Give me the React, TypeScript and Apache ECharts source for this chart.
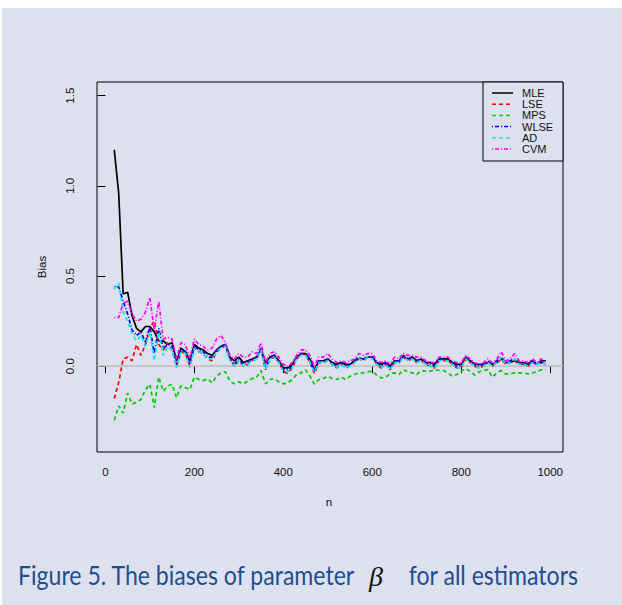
import React, { useEffect, useRef } from "react";
import * as echarts from "echarts";

// Sample sizes n = 20, 30, ..., 990
const N: number[] = Array.from({ length: 98 }, (_, i) => 20 + 10 * i);

const MLE = [
  1.2, 0.96, 0.4, 0.41, 0.28, 0.21, 0.19, 0.22, 0.22, 0.19,
  0.14, 0.14, 0.12, 0.13, 0.03, 0.1, 0.08, 0.03, 0.12, 0.1,
  0.09, 0.07, 0.06, 0.09, 0.11, 0.12, 0.05, 0.03, 0.05, 0.02,
  0.03, 0.04, 0.05, 0.09, 0.02, 0.05, 0.06, 0.03, -0.01, -0.01,
  0.01, 0.05, 0.07, 0.07, 0.04, -0.02, 0.03, 0.03, 0.04, 0.02,
  0.01, 0.02, 0.01, 0.01, 0.03, 0.04, 0.04, 0.05, 0.05, 0.02,
  0.01, 0.02, 0.0, 0.03, 0.03, 0.05, 0.04, 0.05, 0.03, 0.04,
  0.02, 0.02, 0.01, 0.04, 0.04, 0.04, 0.02, 0.01, 0.01, 0.05,
  0.03, 0.01, 0.01, 0.01, 0.02, 0.01, 0.02, 0.04, 0.02, 0.02,
  0.03, 0.02, 0.02, 0.01, 0.03, 0.01, 0.03, 0.03,
];

const LSE = [
  -0.18, -0.09, 0.04, 0.05, 0.03, 0.12, 0.06, 0.12, 0.21, 0.25,
  0.12, 0.09, 0.13, 0.09, 0.0, 0.08, 0.07, 0.0, 0.1, 0.08,
  0.07, 0.04, 0.03, 0.08, 0.1, 0.11, 0.04, 0.0, 0.03, 0.0,
  0.01, 0.03, 0.04, 0.09, -0.02, 0.04, 0.05, 0.02, -0.03, -0.04,
  -0.01, 0.04, 0.07, 0.06, 0.02, -0.04, 0.02, 0.02, 0.03, 0.01,
  -0.01, 0.01, -0.01, 0.0, 0.02, 0.04, 0.03, 0.05, 0.05, 0.01,
  -0.01, 0.01, -0.02, 0.02, 0.02, 0.05, 0.03, 0.04, 0.02, 0.03,
  0.01, 0.0, -0.01, 0.03, 0.03, 0.03, 0.01, -0.01, -0.01, 0.04,
  0.02, 0.0, -0.01, 0.0, 0.02, 0.0, 0.02, 0.04, 0.01, 0.02,
  0.03, 0.01, 0.01, 0.0, 0.02, 0.01, 0.02, 0.01,
];

const MPS = [
  -0.3, -0.22, -0.26, -0.15, -0.21, -0.2, -0.185, -0.13, -0.1, -0.23,
  -0.06, -0.14, -0.11, -0.1, -0.175, -0.11, -0.12, -0.13, -0.06, -0.074,
  -0.08, -0.07, -0.093, -0.056, -0.037, -0.031, -0.083, -0.098, -0.087, -0.098,
  -0.083, -0.069, -0.061, -0.024, -0.098, -0.074, -0.069, -0.087, -0.098, -0.093,
  -0.074, -0.046, -0.037, -0.019, -0.056, -0.1, -0.074, -0.069, -0.056, -0.069,
  -0.074, -0.061, -0.074, -0.056, -0.046, -0.037, -0.037, -0.031, -0.028, -0.05,
  -0.065, -0.061, -0.043, -0.037, -0.046, -0.019, -0.031, -0.037, -0.046, -0.024,
  -0.028, -0.028, -0.019, -0.024, -0.024, -0.037, -0.056, -0.046, -0.028, -0.013,
  -0.028, -0.05, -0.031, -0.024, -0.019, -0.061, -0.037, -0.024, -0.043, -0.043,
  -0.037, -0.037, -0.037, -0.043, -0.037, -0.031, -0.02, -0.019,
];

const WLSE = [
  0.44, 0.44, 0.36, 0.29, 0.2, 0.17, 0.19, 0.13, 0.22, 0.07,
  0.21, 0.1, 0.12, 0.11, 0.01, 0.09, 0.08, 0.01, 0.11, 0.09,
  0.08, 0.05, 0.05, 0.09, 0.11, 0.12, 0.04, 0.01, 0.04, 0.01,
  0.02, 0.04, 0.05, 0.1, -0.01, 0.05, 0.06, 0.03, -0.02, -0.02,
  0.0, 0.05, 0.07, 0.07, 0.03, -0.03, 0.03, 0.03, 0.04, 0.02,
  0.0, 0.02, 0.0, 0.01, 0.03, 0.05, 0.04, 0.05, 0.05, 0.02,
  0.0, 0.02, -0.01, 0.03, 0.03, 0.06, 0.04, 0.05, 0.03, 0.04,
  0.02, 0.01, 0.0, 0.04, 0.04, 0.03, 0.02, 0.0, 0.0, 0.05,
  0.03, 0.01, 0.0, 0.01, 0.03, 0.01, 0.03, 0.05, 0.02, 0.03,
  0.04, 0.02, 0.02, 0.01, 0.03, 0.01, 0.02, 0.02,
];

const AD = [
  0.43, 0.46, 0.3, 0.25, 0.18, 0.14, 0.17, 0.11, 0.19, 0.03,
  0.19, 0.06, 0.11, 0.09, -0.01, 0.08, 0.07, -0.01, 0.1, 0.08,
  0.07, 0.04, 0.04, 0.08, 0.1, 0.11, 0.03, 0.0, 0.03, 0.0,
  0.01, 0.03, 0.04, 0.09, -0.02, 0.04, 0.05, 0.02, -0.03, -0.03,
  -0.01, 0.04, 0.06, 0.06, 0.02, -0.03, 0.02, 0.02, 0.03, 0.01,
  -0.01, 0.01, -0.01, 0.0, 0.02, 0.04, 0.03, 0.05, 0.04, 0.01,
  -0.01, 0.01, -0.02, 0.02, 0.02, 0.05, 0.03, 0.04, 0.02, 0.03,
  0.01, 0.0, -0.01, 0.03, 0.03, 0.03, 0.01, -0.01, -0.01, 0.04,
  0.02, 0.0, -0.01, 0.0, 0.02, 0.0, 0.02, 0.05, 0.01, 0.02,
  0.04, 0.01, 0.01, 0.0, 0.02, 0.01, 0.02, 0.01,
];

const CVM = [
  0.27, 0.27, 0.35, 0.36, 0.29, 0.25, 0.26, 0.3, 0.38, 0.2,
  0.36, 0.15, 0.16, 0.15, 0.04, 0.13, 0.12, 0.04, 0.15, 0.12,
  0.11, 0.09, 0.1, 0.15, 0.17, 0.13, 0.06, 0.04, 0.07, 0.05,
  0.05, 0.08, 0.07, 0.13, 0.02, 0.07, 0.08, 0.05, 0.01, 0.0,
  0.02, 0.06, 0.09, 0.09, 0.06, 0.0, 0.05, 0.05, 0.07, 0.04,
  0.02, 0.03, 0.02, 0.03, 0.04, 0.07, 0.06, 0.07, 0.07, 0.03,
  0.02, 0.03, 0.01, 0.05, 0.04, 0.07, 0.06, 0.06, 0.05, 0.05,
  0.03, 0.02, 0.02, 0.05, 0.05, 0.05, 0.03, 0.02, 0.02, 0.06,
  0.04, 0.02, 0.01, 0.02, 0.04, 0.02, 0.04, 0.08, 0.03, 0.04,
  0.07, 0.03, 0.03, 0.02, 0.04, 0.02, 0.04, 0.02,
];

const X_TICKS = [0, 200, 400, 600, 800, 1000];
const Y_TICKS = [0, 0.5, 1.0, 1.5];

const ESTIMATORS: { name: string; values: number[]; color: string; dash: number[] | null }[] = [
  { name: "MLE", values: MLE, color: "#000000", dash: null },
  { name: "LSE", values: LSE, color: "#ff0000", dash: [4, 3] },
  { name: "MPS", values: MPS, color: "#00cd00", dash: [4, 3] },
  { name: "WLSE", values: WLSE, color: "#0000ff", dash: [1, 2, 4, 2] },
  { name: "AD", values: AD, color: "#00eeee", dash: [4, 3] },
  { name: "CVM", values: CVM, color: "#ff00ff", dash: [1, 2, 4, 2] },
];

const BG = "#dde0ee";
const AXIS_FONT = "'Liberation Sans', Arial, sans-serif";
const CAPTION_FONT = "Lato, 'Open Sans', sans-serif";
const CAPTION_COLOR = "#1f4e8f";
// Caption glyphs are set slightly condensed so they sit taller for their width
const CAPTION_SIZE = 27;
const CAPTION_SQUEEZE = 0.855;

export default function App() {
  const ref = useRef<HTMLDivElement>(null);

  useEffect(() => {
    if (!ref.current) return;
    const chart = echarts.init(ref.current, null, { renderer: "svg" });

    const series: any[] = ESTIMATORS.map((e, idx) => ({
      name: e.name,
      type: "line",
      symbol: "none",
      data: N.map((n, i) => [n, e.values[i]]),
      lineStyle: { color: e.color, width: 1.7, type: e.dash ?? "solid" },
      itemStyle: { color: e.color },
      z: 3 + idx,
      markLine:
        idx === 0
          ? {
              silent: true,
              symbol: "none",
              label: { show: false },
              lineStyle: { color: "#bebebe", type: "solid", width: 1.5 },
              data: [{ yAxis: 0 }],
              z: 1,
            }
          : undefined,
    }));

    // Legend drawn in the style of R's legend(): box, line samples, labels
    const legendTop = 93;
    const legendStep = 11.2;
    const legendItems: any[] = [];
    ESTIMATORS.forEach((e, i) => {
      const y = legendTop + i * legendStep;
      legendItems.push({
        type: "line",
        silent: true,
        z: 11,
        shape: { x1: 492, y1: y, x2: 513, y2: y },
        style: { stroke: e.color, lineWidth: 1.5, lineDash: e.dash ?? undefined },
      });
      legendItems.push({
        type: "text",
        silent: true,
        z: 11,
        x: 522,
        y: y,
        style: {
          text: e.name,
          font: `11px ${AXIS_FONT}`,
          fill: "#111",
          textAlign: "left",
          textVerticalAlign: "middle",
        },
      });
    });

    chart.setOption({
      animation: false,
      backgroundColor: "transparent",
      grid: {
        left: 97,
        top: 82,
        width: 466,
        height: 370,
        show: true,
        borderColor: "#000",
        borderWidth: 1,
        backgroundColor: "transparent",
      },
      xAxis: {
        type: "value",
        min: -18.8,
        max: 1028.8,
        axisLine: { show: false },
        splitLine: { show: false },
        axisTick: {
          show: true,
          inside: false,
          customValues: X_TICKS,
          length: 7,
          lineStyle: { color: "#000" },
        },
        axisLabel: {
          customValues: X_TICKS,
          margin: 14,
          fontSize: 11.5,
          color: "#111",
          fontFamily: AXIS_FONT,
          formatter: (v: number) => String(v),
        },
      },
      yAxis: {
        type: "value",
        min: -0.476,
        max: 1.576,
        axisLine: { show: false },
        splitLine: { show: false },
        axisTick: {
          show: true,
          inside: false,
          customValues: Y_TICKS,
          length: 8,
          lineStyle: { color: "#000" },
        },
        axisLabel: {
          customValues: Y_TICKS,
          rotate: 90,
          margin: 21,
          fontSize: 11.5,
          color: "#111",
          fontFamily: AXIS_FONT,
          formatter: (v: number) => v.toFixed(1),
        },
      },
      graphic: [
        {
          type: "rect",
          z: -10,
          silent: true,
          shape: { x: 2, y: 8, width: 620, height: 597 },
          style: { fill: BG },
        },
        {
          type: "rect",
          z: 10,
          silent: true,
          shape: { x: 483, y: 82, width: 80, height: 79 },
          style: { fill: BG, stroke: "#000", lineWidth: 1 },
        },
        ...legendItems,
        {
          type: "text",
          x: 329,
          y: 502,
          style: {
            text: "n",
            font: `11.5px ${AXIS_FONT}`,
            fill: "#111",
            textAlign: "center",
            textVerticalAlign: "middle",
          },
        },
        {
          type: "text",
          x: 42,
          y: 267,
          rotation: Math.PI / 2,
          style: {
            text: "Bias",
            font: `11.5px ${AXIS_FONT}`,
            fill: "#111",
            textAlign: "center",
            textVerticalAlign: "middle",
          },
        },
        {
          type: "text",
          x: 18,
          y: 574,
          scaleX: CAPTION_SQUEEZE,
          style: {
            text: "Figure 5. The biases of parameter",
            font: `${CAPTION_SIZE}px ${CAPTION_FONT}`,
            fill: CAPTION_COLOR,
            textAlign: "left",
            textVerticalAlign: "middle",
          },
        },
        {
          type: "text",
          x: 369,
          y: 576,
          style: {
            text: "β",
            font: `italic 28px 'Liberation Serif', 'DejaVu Serif', serif`,
            fill: "#111",
            textAlign: "left",
            textVerticalAlign: "middle",
          },
        },
        {
          type: "text",
          x: 578,
          y: 574,
          scaleX: CAPTION_SQUEEZE,
          style: {
            text: "for all estimators",
            font: `${CAPTION_SIZE}px ${CAPTION_FONT}`,
            fill: CAPTION_COLOR,
            textAlign: "right",
            textVerticalAlign: "middle",
          },
        },
      ],
      series,
    });

    return () => chart.dispose();
  }, []);

  return (
    <div
      style={{
        position: "absolute",
        left: 0,
        top: 0,
        width: 622,
        height: 605,
        background: "#ffffff",
      }}
    >
      <div ref={ref} style={{ width: 622, height: 605 }} />
    </div>
  );
}
